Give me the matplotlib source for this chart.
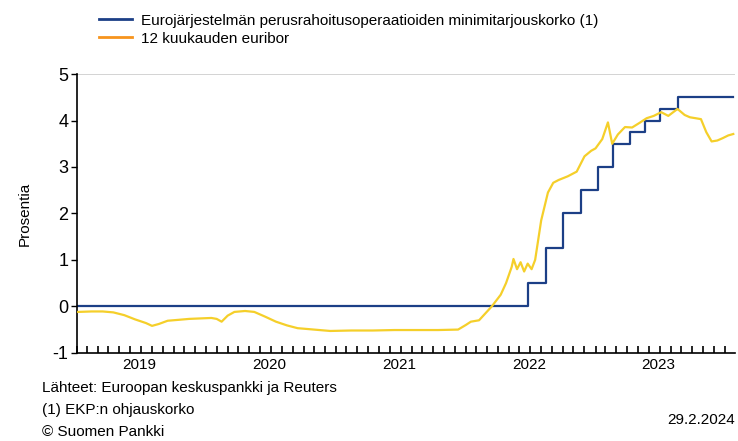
import pandas as pd
import matplotlib.pyplot as plt
import matplotlib.dates as mdates
from matplotlib.lines import Line2D

plt.rcParams["font.family"] = ["Liberation Sans", "DejaVu Sans"]
plt.rcParams["axes.unicode_minus"] = False

# ECB main refinancing rate, change dates and levels
mro_dates = ["2019-02-01", "2022-07-27", "2022-09-14", "2022-11-02", "2022-12-21",
             "2023-02-08", "2023-03-22", "2023-05-10", "2023-06-21", "2023-08-02",
             "2023-09-20", "2024-02-24"]
mro_values = [0.0, 0.5, 1.25, 2.0, 2.5, 3.0, 3.5, 3.75, 4.0, 4.25, 4.5, 4.5]

# 12-month euribor
eur_dates = ["2019-02-05", "2019-03-15", "2019-04-15", "2019-05-15", "2019-06-15",
             "2019-07-15", "2019-08-15", "2019-09-01", "2019-09-20", "2019-10-15",
             "2019-11-15", "2019-12-15", "2020-01-15", "2020-02-15", "2020-03-01",
             "2020-03-15", "2020-04-01", "2020-04-20", "2020-05-20", "2020-06-15",
             "2020-07-15", "2020-08-15", "2020-09-15", "2020-10-15", "2020-11-15",
             "2020-12-15", "2021-01-15", "2021-03-15", "2021-05-15", "2021-07-15",
             "2021-09-15", "2021-11-15", "2022-01-10", "2022-02-01", "2022-02-15",
             "2022-03-10", "2022-04-15", "2022-05-10", "2022-05-25", "2022-06-10",
             "2022-06-15", "2022-06-25", "2022-07-05", "2022-07-15", "2022-07-25",
             "2022-08-05", "2022-08-15", "2022-09-01", "2022-09-20", "2022-10-05",
             "2022-10-20", "2022-11-15", "2022-12-10", "2023-01-01", "2023-01-20",
             "2023-02-01", "2023-02-20", "2023-03-08", "2023-03-20", "2023-04-05",
             "2023-04-25", "2023-05-15", "2023-06-05", "2023-06-25", "2023-07-15",
             "2023-08-05", "2023-08-25", "2023-09-20", "2023-10-10", "2023-10-25",
             "2023-11-10", "2023-11-25", "2023-12-10", "2023-12-25", "2024-01-10",
             "2024-01-25", "2024-02-10", "2024-02-24"]
eur_values = [-0.12, -0.11, -0.11, -0.13, -0.19, -0.28, -0.36, -0.42, -0.38, -0.31,
              -0.29, -0.27, -0.26, -0.25, -0.27, -0.33, -0.20, -0.12, -0.10, -0.12,
              -0.22, -0.33, -0.41, -0.47, -0.49, -0.51, -0.53, -0.52, -0.52, -0.51,
              -0.51, -0.51, -0.50, -0.40, -0.33, -0.30, 0.00, 0.25, 0.50, 0.85,
              1.02, 0.80, 0.95, 0.75, 0.92, 0.80, 1.00, 1.85, 2.45, 2.66,
              2.72, 2.80, 2.90, 3.23, 3.35, 3.40, 3.60, 3.96, 3.50, 3.70,
              3.86, 3.85, 3.95, 4.05, 4.10, 4.18, 4.10, 4.25, 4.12, 4.07,
              4.05, 4.03, 3.75, 3.55, 3.57, 3.62, 3.68, 3.71]

year_labels = ["2019", "2020", "2021", "2022", "2023"]


def num(dates):
    return mdates.date2num(pd.to_datetime(dates).to_pydatetime())


navy = "#1c3f86"
yellow = "#f5cf2a"

fig = plt.figure(figsize=(7.38, 4.41), dpi=100)
ax = fig.add_axes([0.104, 0.200, 0.892, 0.632])

ax.plot(num(eur_dates), eur_values, color=yellow, lw=1.6, zorder=3)
ax.step(num(mro_dates), mro_values, where="post", color=navy, lw=1.6, zorder=2)
ax.axhline(5, color="#cccccc", lw=1.2, zorder=1)

ax.set_xlim(num(["2019-02-01", "2024-02-29"]))
ax.set_ylim(-1, 5)
ax.set_yticks(range(-1, 6))
ax.tick_params(axis="y", direction="out", length=4, width=1, labelsize=13, pad=2)

# month ticks along the bottom, year labels near mid-year
months = pd.date_range("2019-02-01", "2024-02-01", freq="MS").strftime("%Y-%m-%d")
ax.set_xticks(num(months), minor=True)
ax.set_xticks(num([y + "-07-28" for y in year_labels]))
ax.set_xticklabels(year_labels)
ax.tick_params(axis="x", which="major", length=0, labelsize=11, pad=4)
ax.tick_params(axis="x", which="minor", direction="in", length=5, width=1.2, color="black")

for s in ["top", "right"]:
    ax.spines[s].set_visible(False)
ax.spines["left"].set_linewidth(1.2)
ax.spines["bottom"].set_linewidth(1.2)

ax.set_ylabel("Prosentia", fontsize=11, labelpad=15)

handles = [Line2D([], [], color=navy, lw=2), Line2D([], [], color="#f7941d", lw=2)]
fig.legend(handles, ["Eurojärjestelmän perusrahoitusoperaatioiden minimitarjouskorko (1)",
                     "12 kuukauden euribor"],
           loc="upper left", bbox_to_anchor=(0.115, 1.0), frameon=False,
           fontsize=11, handlelength=2.2, handletextpad=0.6, labelspacing=0.25)

fig.text(0.057, 1 - 388 / 441, "Lähteet: Euroopan keskuspankki ja Reuters", fontsize=11, va="center")
fig.text(0.057, 1 - 410 / 441, "(1) EKP:n ohjauskorko", fontsize=11, va="center")
fig.text(0.057, 1 - 432 / 441, "© Suomen Pankki", fontsize=11, va="center")
fig.text(0.996, 1 - 420 / 441, "29.2.2024", fontsize=11, va="center", ha="right")

fig.savefig("out.png", dpi=100)
